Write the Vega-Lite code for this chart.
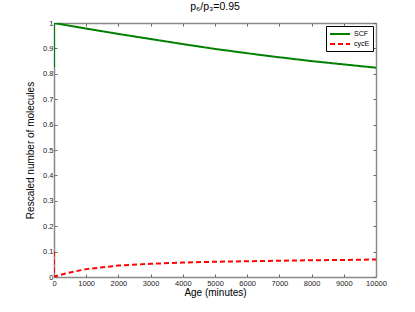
{
  "$schema": "https://vega.github.io/schema/vega-lite/v6.json",
  "autosize": "none",
  "width": 322,
  "height": 254,
  "padding": {"left": 54, "top": 23, "right": 39, "bottom": 35},
  "background": "white",
  "title": {"text": "p₆/p₃=0.95", "fontSize": 10.5, "font": "Liberation Sans", "fontWeight": "normal", "color": "#000", "offset": 7},
  "config": {
    "view": {"stroke": null},
    "font": "Liberation Sans",
    "axis": {"grid": false, "labelFont": "Liberation Sans", "titleFont": "Liberation Sans", "labelColor": "#222", "titleColor": "#000", "labelFontSize": 7.5, "titleFontSize": 10, "titleFontWeight": "normal", "domainColor": "#888", "domainWidth": 1.5, "tickColor": "#666", "tickSize": -3}
  },
  "data": {"values": [
    {"series": "SCF", "t": 0, "v": 0.826, "o": 0},
    {"series": "SCF", "t": 0, "v": 1.0, "o": 1},
    {"series": "SCF", "t": 1000, "v": 0.978, "o": 2},
    {"series": "SCF", "t": 2000, "v": 0.957, "o": 3},
    {"series": "SCF", "t": 3000, "v": 0.937, "o": 4},
    {"series": "SCF", "t": 4000, "v": 0.917, "o": 5},
    {"series": "SCF", "t": 5000, "v": 0.898, "o": 6},
    {"series": "SCF", "t": 6000, "v": 0.881, "o": 7},
    {"series": "SCF", "t": 7000, "v": 0.865, "o": 8},
    {"series": "SCF", "t": 8000, "v": 0.850, "o": 9},
    {"series": "SCF", "t": 9000, "v": 0.837, "o": 10},
    {"series": "SCF", "t": 10000, "v": 0.824, "o": 11},
    {"series": "cycE", "t": 0, "v": 0.1, "o": 0},
    {"series": "cycE", "t": 0, "v": 0.002, "o": 1},
    {"series": "cycE", "t": 500, "v": 0.018, "o": 2},
    {"series": "cycE", "t": 1000, "v": 0.031, "o": 3},
    {"series": "cycE", "t": 2000, "v": 0.045, "o": 4},
    {"series": "cycE", "t": 3000, "v": 0.052, "o": 5},
    {"series": "cycE", "t": 4000, "v": 0.057, "o": 6},
    {"series": "cycE", "t": 5000, "v": 0.060, "o": 7},
    {"series": "cycE", "t": 6000, "v": 0.062, "o": 8},
    {"series": "cycE", "t": 7000, "v": 0.064, "o": 9},
    {"series": "cycE", "t": 8000, "v": 0.066, "o": 10},
    {"series": "cycE", "t": 9000, "v": 0.067, "o": 11},
    {"series": "cycE", "t": 10000, "v": 0.069, "o": 12}
  ]},
  "layer": [
    {
      "mark": {"type": "line", "strokeWidth": 2, "clip": true},
      "encoding": {
        "x": {"field": "t", "type": "quantitative", "scale": {"domain": [0, 10000], "nice": false}, "axis": {"title": "Age (minutes)", "values": [0,1000,2000,3000,4000,5000,6000,7000,8000,9000,10000], "format": "d", "labelFlush": false, "titlePadding": 1, "labelPadding": 5}},
        "y": {"field": "v", "type": "quantitative", "scale": {"domain": [0, 1], "nice": false}, "axis": {"title": "Rescaled number of molecules", "values": [0,0.1,0.2,0.3,0.4,0.5,0.6,0.7,0.8,0.9,1], "format": "~g", "labelFlush": false, "titlePadding": 7, "labelPadding": 4}},
        "order": {"field": "o", "type": "quantitative"},
        "color": {"field": "series", "type": "nominal", "scale": {"domain": ["SCF", "cycE"], "range": ["#008000", "#ff0000"]}, "legend": {"title": null, "orient": "top-right", "offset": 3, "symbolType": "M-1,0H4", "symbolSize": 64, "symbolStrokeWidth": 2, "labelFontSize": 7, "labelColor": "#000", "strokeColor": "#000", "fillColor": "white", "padding": 3, "rowPadding": 1, "labelOffset": 15}},
        "strokeDash": {"field": "series", "type": "nominal", "scale": {"domain": ["SCF", "cycE"], "range": [[1, 0], [5, 3]]}, "legend": null}
      }
    },
    {
      "mark": {"type": "point", "opacity": 0},
      "encoding": {
        "x": {"field": "t", "type": "quantitative", "scale": {"domain": [0, 10000], "nice": false}, "axis": {"orient": "top", "title": null, "labels": false, "values": [0,1000,2000,3000,4000,5000,6000,7000,8000,9000,10000]}},
        "y": {"field": "v", "type": "quantitative", "scale": {"domain": [0, 1], "nice": false}, "axis": {"orient": "right", "title": null, "labels": false, "values": [0,0.1,0.2,0.3,0.4,0.5,0.6,0.7,0.8,0.9,1]}}
      }
    }
  ],
  "resolve": {"axis": {"x": "independent", "y": "independent"}}
}
